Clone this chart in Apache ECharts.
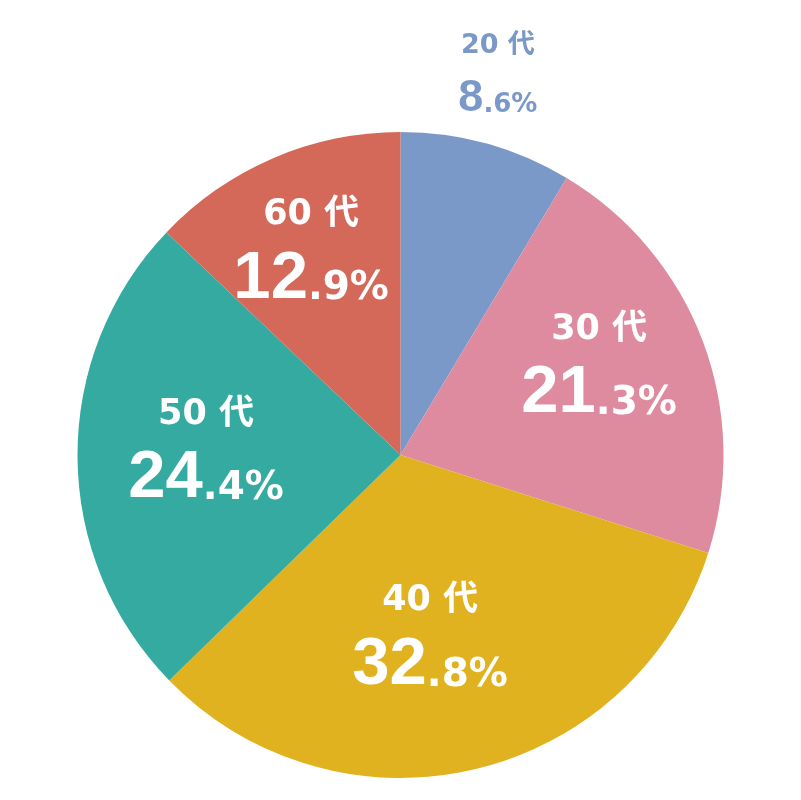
<!DOCTYPE html>
<html><head><meta charset="utf-8">
<script src="https://cdn.jsdelivr.net/npm/echarts@6/dist/echarts.min.js"></script>
<style>html,body{margin:0;padding:0;background:#fff}#c{width:801px;height:800px}</style>
</head><body><div id="c"></div>
<script>
// ---- data ----
const categories = ['20 代', '30 代', '40 代', '50 代', '60 代'];
const shares = [8.6, 21.3, 32.8, 24.4, 12.9];

// ---- style ----
const colors = ['#7a98c8', '#df8b9f', '#e1b21f', '#34aaa0', '#d4695a'];
const FONT_H = '"DejaVu Sans","Noto Sans CJK JP",sans-serif';
const FONT_B = '"Liberation Sans","Noto Sans CJK JP",sans-serif';
// label placement: radial factor and angular tweak (deg) per slice
const placeF = [1.214, 0.672, 0.578, 0.602, 0.685];
const placeDA = [-1.1, -3.1, 4.2, 1.1, -0.6];

const CX = 400.5, CY = 455, R = 323;
const total = shares.reduce((a, b) => a + b, 0);

function midAngle(i) {
  let cum = 0;
  for (let k = 0; k < i; k++) cum += shares[k];
  return (cum + shares[i] / 2) / total * 360;
}

function fmt(p) {
  const s = p.value.toFixed(1);
  const parts = s.split('.');
  const pre = p.dataIndex === 0 ? 'o' : 'i';
  return '{' + pre + 'h|' + p.name + '}\n{' + pre + 'b|' + parts[0] + '}{' + pre + 's|.' + parts[1] + '%}';
}

function richSet(pre, color, h, b, s, hl, bl, sl, pb) {
  const o = {};
  o[pre + 'h'] = { fontSize: h, fontWeight: 'bold', color, fontFamily: FONT_H, lineHeight: hl, align: 'center' };
  o[pre + 'b'] = { fontSize: b, fontWeight: 'bold', color, fontFamily: FONT_B, lineHeight: bl, verticalAlign: 'bottom' };
  o[pre + 's'] = { fontSize: s, fontWeight: 'bold', color, fontFamily: FONT_H, lineHeight: sl, verticalAlign: 'bottom', padding: [0, 0, pb, 0] };
  return o;
}
const rich = Object.assign({},
  richSet('i', '#ffffff', 35, 67, 39, 44, 76, 60, 4),
  richSet('o', colors[0], 27, 45, 26, 34, 58, 50, 3)
);

const chart = echarts.init(document.getElementById('c'), null, { renderer: 'canvas' });
chart.setOption({
  animation: false,
  color: colors,
  series: [{
    type: 'pie',
    center: [CX, CY],
    radius: R,
    startAngle: 90,
    clockwise: true,
    silent: true,
    itemStyle: { borderWidth: 0 },
    label: {
      show: true,
      position: 'inside',
      formatter: fmt,
      rich: rich,
      align: 'center'
    },
    labelLine: { show: false },
    labelLayout: function (p) {
      const i = p.dataIndex;
      const a = (midAngle(i) + placeDA[i]) * Math.PI / 180;
      const r = R * placeF[i];
      return {
        x: CX + r * Math.sin(a),
        y: CY - r * Math.cos(a),
        align: 'center',
        verticalAlign: 'middle'
      };
    },
    data: categories.map((c, i) => ({ name: c, value: shares[i] }))
  }]
});
</script>
</body></html>
